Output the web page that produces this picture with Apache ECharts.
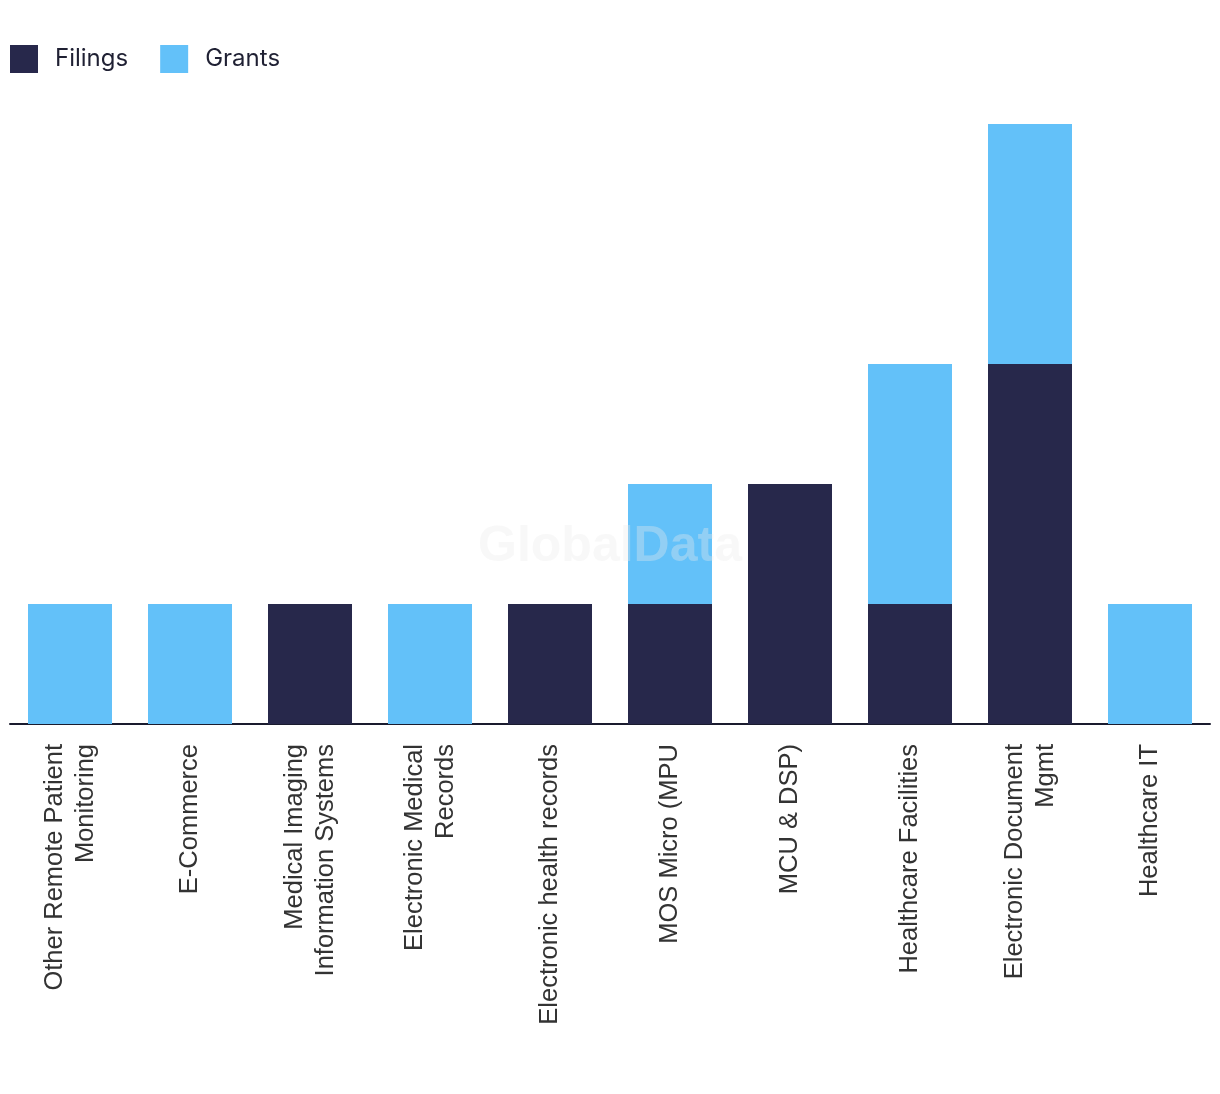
<!DOCTYPE html>
<html><head><meta charset="utf-8">
<script src="https://cdn.jsdelivr.net/npm/echarts@6/dist/echarts.min.js"></script>
<style>html,body{margin:0;padding:0;background:#fff}#c{width:1220px;height:1094px}</style>
</head><body><div id="c"></div>
<script>
const categories = ["Other Remote Patient\nMonitoring","E-Commerce","Medical Imaging\nInformation Systems","Electronic Medical\nRecords","Electronic health records","MOS Micro (MPU","MCU & DSP)","Healthcare Facilities","Electronic Document\nMgmt","Healthcare IT"];
const filings = [0,0,1,0,1,1,2,1,3,0];
const grants  = [1,1,0,1,0,1,0,2,2,1];
const chart = echarts.init(document.getElementById('c'));
chart.setOption({
  animation:false,
  backgroundColor:'#fff',
  legend:{left:10,top:45,padding:0,itemWidth:28,itemHeight:28,itemGap:32,icon:'rect',
    textStyle:{fontFamily:'Inter',fontSize:24,color:'#1f2033',padding:[0,0,0,12]},
    data:['Filings','Grants']},
  grid:{left:10,right:10,top:124,bottom:370,containLabel:false},
  xAxis:{type:'category',data:categories,
    axisLine:{lineStyle:{color:'#1a1b2e',width:2}},axisTick:{show:false},
    axisLabel:{rotate:90,interval:0,margin:20,fontFamily:'Liberation Sans',fontSize:25.5,color:'#333',lineHeight:31}},
  yAxis:{type:'value',min:0,max:5,interval:1,show:false,splitLine:{show:false}},
  series:[
    {name:'Filings',type:'bar',stack:'a',data:filings,barWidth:'70%',itemStyle:{color:'#27284B'}},
    {name:'Grants',type:'bar',stack:'a',data:grants,barWidth:'70%',itemStyle:{color:'#63C1F9'}}
  ],
  graphic:[{type:'text',left:'center',top:522,z:100,style:{text:'GlobalData',font:'bold 50px "Liberation Sans"',fill:'rgba(235,235,235,0.35)'}}]
});
</script></body></html>
